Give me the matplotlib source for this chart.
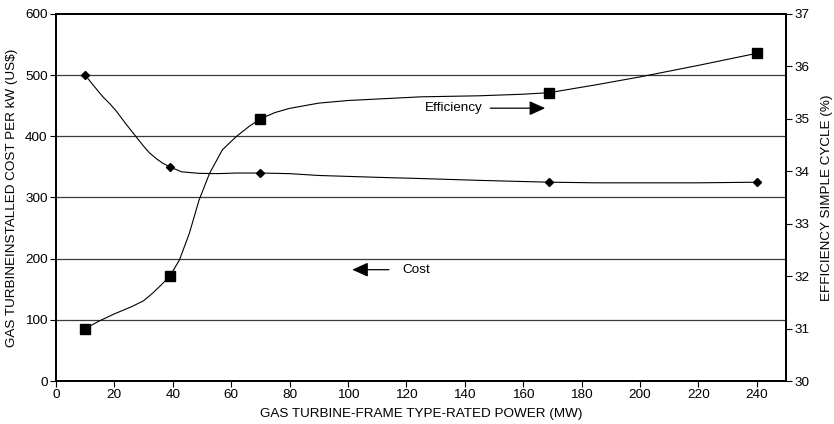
import matplotlib
matplotlib.use("Agg")
import matplotlib.pyplot as plt

plt.rcParams['font.family'] = ['Liberation Sans', 'DejaVu Sans']
plt.rcParams['font.size'] = 9.7

# === DATA ===
# marker points
power_mw = [10, 39, 70, 169, 240]
cost_usd_kw = [500, 350, 340, 325, 325]
efficiency_pct = [31.0, 32.0, 35.0, 35.5, 36.25]

# smoothed curves
cost_curve_x = [10, 12.7, 16, 18.5, 20.7, 24, 27.5, 30, 32, 34.5, 36.6, 39, 43, 49, 55,
                62, 70, 80, 90, 110, 125, 145, 169, 185, 200, 220, 240]
cost_curve_y = [500, 484, 465, 453, 441, 420, 399, 384, 373, 363, 356, 350, 342, 339.5,
                339, 340, 340, 339, 336, 333, 331, 328, 325, 324, 324, 324, 325]

eff_curve_x = [10, 15, 20, 26, 30, 33, 36, 39, 42.3, 45.7, 49, 52.6, 57, 61.7, 66, 70,
               75, 80, 90, 100, 125, 145, 160, 169, 185, 200, 220, 240]
eff_curve_y = [31.0, 31.15, 31.28, 31.42, 31.53, 31.67, 31.83, 32.0, 32.31, 32.82,
               33.45, 33.96, 34.41, 34.66, 34.85, 35.0, 35.12, 35.2, 35.3, 35.35,
               35.42, 35.44, 35.47, 35.5, 35.65, 35.8, 36.02, 36.25]

x_ticks = list(range(0, 241, 20))
cost_ticks = list(range(0, 601, 100))
eff_ticks = list(range(30, 38))

fig = plt.figure(figsize=(8.34, 4.24), dpi=100)
ax = fig.add_axes([0.0671, 0.1014, 0.8753, 0.8656])
ax2 = ax.twinx()

# gridlines on the cost axis
for v in cost_ticks[1:-1]:
    ax.axhline(v, color='#3a3a3a', lw=0.9, zorder=1)

ax.plot(cost_curve_x, cost_curve_y, color='black', lw=0.8, zorder=3)
ax.plot(power_mw, cost_usd_kw, ls='none', marker='D', ms=4.5, color='black', zorder=4)

ax2.plot(eff_curve_x, eff_curve_y, color='black', lw=0.8, zorder=3)
ax2.plot(power_mw, efficiency_pct, ls='none', marker='s', ms=6.5, color='black', zorder=4)

ax.set_xlim(0, 250)
ax.set_ylim(0, 600)
ax2.set_ylim(30, 37)
ax.set_xticks(x_ticks)
ax.set_yticks(cost_ticks)
ax2.set_yticks(eff_ticks)

for a in (ax, ax2):
    a.tick_params(direction='out', length=4, width=0.8, labelsize=9.7, pad=2, colors='black')
    for s in a.spines.values():
        s.set_linewidth(1.3)

ax.set_xlabel('GAS TURBINE-FRAME TYPE-RATED POWER (MW)', fontsize=9.7, labelpad=5)
ax.set_ylabel('GAS TURBINEINSTALLED COST PER kW (US$)', fontsize=9.7, labelpad=5)
ax2.set_ylabel('EFFICIENCY SIMPLE CYCLE (%)', fontsize=9.7, labelpad=8)

# annotations
arrow = dict(arrowstyle='-|>,head_length=1.0,head_width=0.45', color='black', lw=0.9)
ax.text(146, 446, 'Efficiency', fontsize=9.7, va='center', ha='right')
ax.annotate('', xy=(168.5, 446), xytext=(147.8, 446), arrowprops=arrow)
ax.text(118.5, 182, 'Cost', fontsize=9.7, va='center', ha='left')
ax.annotate('', xy=(100.5, 182), xytext=(115, 182), arrowprops=arrow)

fig.savefig('out.png', dpi=100)
